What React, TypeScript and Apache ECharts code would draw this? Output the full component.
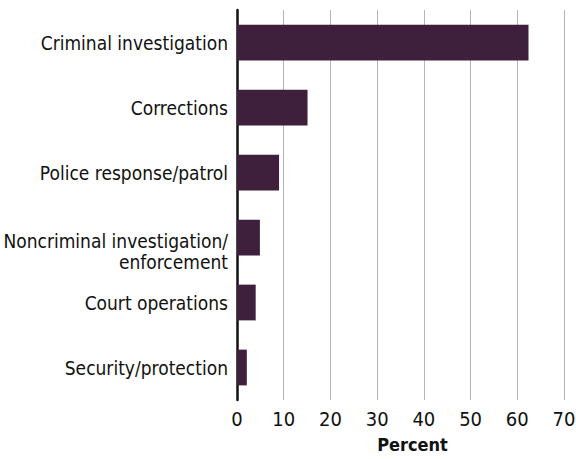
import React, { useEffect, useRef } from "react";
import * as echarts from "echarts";

const categories = [
  "Criminal investigation",
  "Corrections",
  "Police response/patrol",
  "Noncriminal investigation/\nenforcement",
  "Court operations",
  "Security/protection",
];
const percentValues = [62.4, 15.1, 9.0, 4.9, 4.0, 2.1];
const xTicks = [0, 10, 20, 30, 40, 50, 60, 70];

const FONT = "'Liberation Sans Narrow', 'DejaVu Sans Condensed', 'Roboto', sans-serif";
const LABEL_SIZE = 19;

export default function App() {
  const ref = useRef<HTMLDivElement>(null);
  useEffect(() => {
    if (!ref.current) return;
    const chart = echarts.init(ref.current, undefined, { renderer: "svg" });
    chart.setOption({
      animation: false,
      grid: {
        left: 237,
        right: 12,
        top: 10,
        bottom: 59,
        containLabel: false,
        outerBoundsMode: "none",
      },
      xAxis: {
        type: "value",
        min: xTicks[0],
        max: xTicks[xTicks.length - 1],
        interval: 10,
        name: "Percent",
        nameLocation: "middle",
        nameGap: 35,
        nameTextStyle: {
          fontFamily: FONT,
          fontSize: 18,
          fontWeight: "bold",
          color: "#111",
          padding: [0, 0, 0, 24],
        },
        axisLine: { show: false },
        axisTick: { show: false },
        axisLabel: { fontFamily: FONT, fontSize: 20, color: "#111", margin: 9 },
        splitLine: { show: true, lineStyle: { color: "#b5b5b5", width: 1 } },
      },
      yAxis: {
        type: "category",
        data: categories,
        inverse: true,
        axisLine: { show: true, lineStyle: { color: "#111", width: 2.5 } },
        axisTick: { show: false },
        axisLabel: {
          fontFamily: FONT,
          fontSize: LABEL_SIZE,
          color: "#111",
          margin: 9,
          align: "right",
          formatter: (v: string) => {
            if (!v.includes("\n")) return v;
            const [a, b] = v.split("\n");
            return `{n1|${a}}\n{n2|${b}}`;
          },
          rich: {
            n1: {
              fontFamily: FONT,
              fontSize: LABEL_SIZE,
              color: "#111",
              lineHeight: 48,
              verticalAlign: "bottom",
              align: "right",
            },
            n2: {
              fontFamily: FONT,
              fontSize: LABEL_SIZE,
              color: "#111",
              lineHeight: 22,
              align: "right",
            },
          },
        },
      },
      series: [
        {
          type: "bar",
          data: percentValues,
          barCategoryGap: "45%",
          itemStyle: { color: "#3e1f3c" },
        },
      ],
    });
    return () => chart.dispose();
  }, []);
  return <div ref={ref} style={{ width: 576, height: 459, position: "absolute", left: 0, top: 0 }} />;
}
